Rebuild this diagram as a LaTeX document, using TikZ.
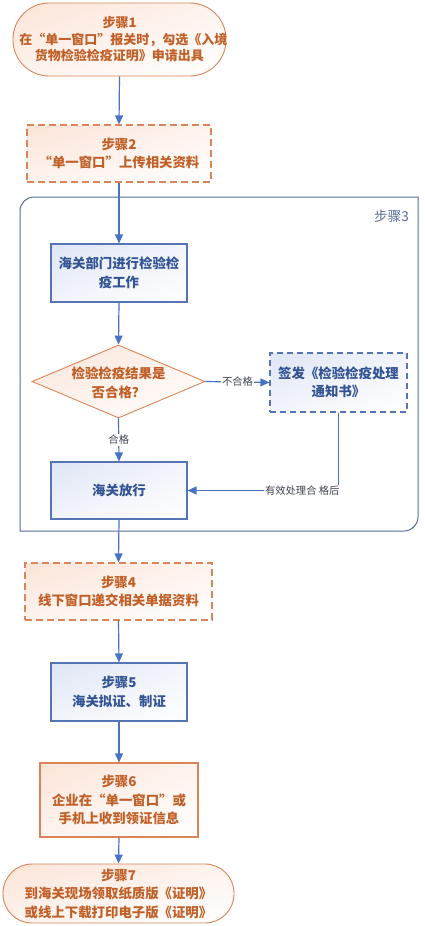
\documentclass[tikz,border=0pt]{standalone}
\usepackage{fontspec}
\setmainfont{Noto Sans CJK SC}
\usetikzlibrary{arrows.meta,shapes.geometric,shadings}
\definecolor{oline}{RGB}{218,132,88}
\definecolor{otext}{RGB}{192,96,40}
\definecolor{ofill}{RGB}{251,228,216}
\definecolor{bline}{RGB}{84,116,182}
\definecolor{btext}{RGB}{50,84,148}
\definecolor{bfill}{RGB}{222,229,244}
\definecolor{arr}{RGB}{72,114,196}
\definecolor{cont}{RGB}{88,108,150}
\definecolor{lbl}{RGB}{60,66,80}
\tikzset{
  base/.style={inner sep=0pt, align=center, font=\fontsize{13.4}{18.5}\selectfont\bfseries},
  obox/.style={base, draw=oline, line width=1.1pt, text=otext,
     upper left=ofill, upper right=ofill!45!white, lower left=ofill!45!white, lower right=white},
  bbox/.style={base, draw=bline, line width=1.1pt, text=btext,
     upper left=bfill, upper right=bfill!40!white, lower left=bfill!40!white, lower right=white},
  odash/.style={obox, dash pattern=on 7pt off 4pt},
  bdash/.style={bbox, dash pattern=on 6pt off 4pt},
  conn/.style={draw=arr, line width=1.2pt, -{Triangle[length=9pt,width=8pt]}},
  lab/.style={fill=white, inner sep=1pt, text=lbl, font=\fontsize{10.3}{12}\selectfont},
}
\begin{document}
\begin{tikzpicture}[x=1pt,y=-1pt]
\useasboundingbox (0,0) rectangle (425,926);
% container
\draw[cont, line width=1pt] (20,531) -- (20,211) .. controls (20,203.3) and (26.3,197) .. (34,197)
   -- (418,197) -- (418,517) .. controls (418,524.7) and (411.7,531) .. (404,531) -- cycle;
\node[anchor=east, text=cont, font=\fontsize{13.6}{16}\selectfont, inner sep=0pt] (s3lab) at (409,216) {步骤3};

\node[obox, minimum width=213pt, minimum height=73pt, rounded corners=36pt, line width=0.9pt,
  font=\fontsize{13}{16.5}\selectfont\bfseries] (s1) at (119.5,39.5)
  {\raisebox{-2pt}{\parbox{200pt}{\centering 步骤1\\在“单一窗口”报关时，勾选《入境\\货物检验检疫证明》申请出具}}};
\node[odash, minimum width=184pt, minimum height=57pt] (s2) at (119,153.5) {步骤2\\“单一窗口”上传相关资料};
\node[bbox, minimum width=136pt, minimum height=58pt] (b1) at (119,273) {海关部门进行检验检\\疫工作};
\node[diamond, draw=oline, line width=0.9pt, inner sep=0pt, minimum width=173pt, minimum height=73pt,
  upper left=ofill, upper right=ofill!45!white, lower left=ofill!45!white, lower right=white] (d) at (118.5,381.5) {};
\node[base, text=otext] (dt) at ([yshift=-1.5pt]d.center) {检验检疫结果是\\否合格？};
\node[bdash, minimum width=137pt, minimum height=59pt] (r) at (338.5,382.5) {签发《检验检疫处理\\通知书》};
\node[bbox, minimum width=136pt, minimum height=57pt] (b2) at (119,490.5) {海关放行};
\node[odash, minimum width=187pt, minimum height=57pt] (s4) at (118.5,591.5) {步骤4\\线下窗口递交相关单据资料};
\node[bbox, minimum width=136pt, minimum height=58pt] (s5) at (119,692) {步骤5\\海关拟证、制证};
\node[obox, minimum width=158pt, minimum height=74pt] (s6) at (119,800) {步骤6\\企业在“单一窗口”或\\手机上收到领证信息};
\node[obox, minimum width=231pt, minimum height=59pt, rounded corners=29pt, line width=0.9pt] (s7) at (118.5,893.5)
  {步骤7\\到海关现场领取纸质版《证明》\\或线上下载打印电子版《证明》};

\draw[conn] (s1.south) -- (s2.north);
\draw[conn] (s2.south) -- (b1.north);
\draw[conn] (b1.south) -- (d.north);
\draw[conn] (d.east) -- node[lab] (l1) {不合格} (r.west);
\draw[conn] (d.south) -- node[lab, pos=0.5] (l2) {合格} (b2.north);
\draw[conn] (r.south) |- node[lab, pos=0.62] (l3) {有效处理合 格后} (b2.east);
\draw[conn] (b2.south) -- (s4.north);
\draw[conn] (s4.south) -- (s5.north);
\draw[conn] (s5.south) -- (s6.north);
\draw[conn] (s6.south) -- (s7.north);
\end{tikzpicture}
\end{document}
